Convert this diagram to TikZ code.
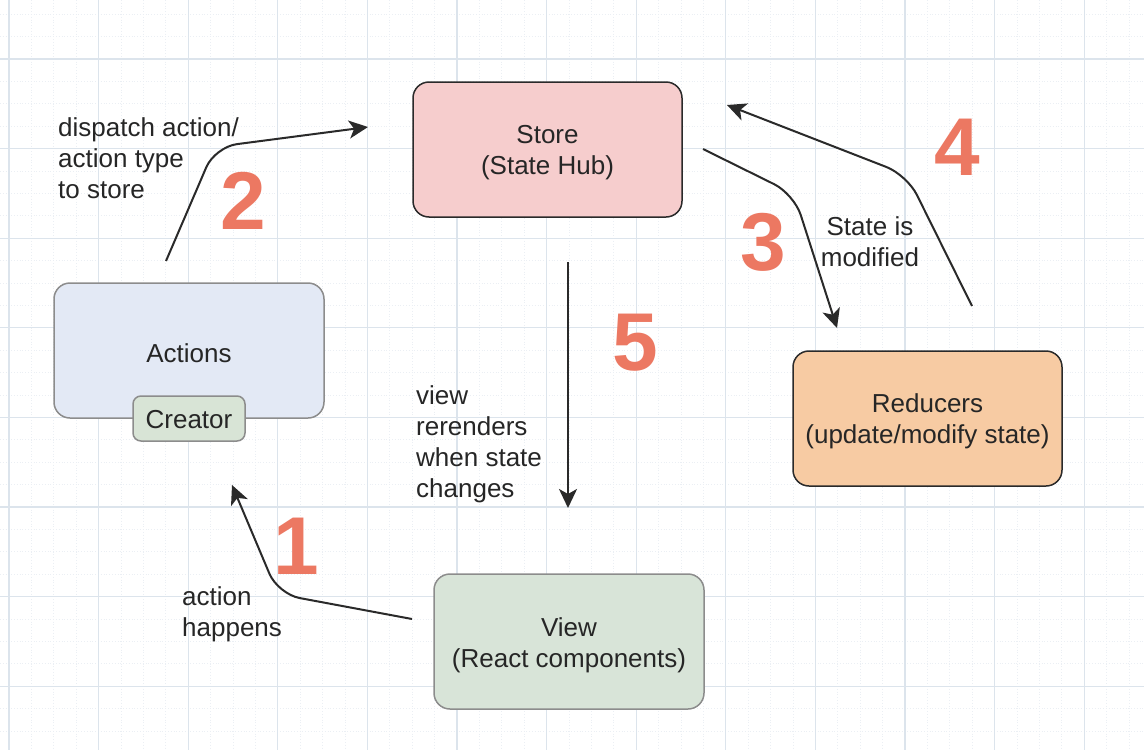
\documentclass[tikz,border=0pt]{standalone}
\usepackage{fontspec}
\setmainfont{Liberation Sans}
\usetikzlibrary{arrows.meta}
\definecolor{gridmajor}{HTML}{DCE4EC}
\definecolor{gridminor}{HTML}{EBEFF4}
\definecolor{storefill}{HTML}{F6CDCD}
\definecolor{redfill}{HTML}{F7CBA3}
\definecolor{actfill}{HTML}{E3E9F5}
\definecolor{crfill}{HTML}{D8E4D6}
\definecolor{viewfill}{HTML}{D8E4D8}
\definecolor{numcol}{HTML}{EC7862}
\definecolor{darkline}{HTML}{2A2A2A}
\definecolor{grayline}{HTML}{8C8C8C}
\tikzset{
  box/.style={draw, rounded corners=16pt, line width=1.5pt, inner sep=0pt, align=center,
    font=\fontsize{26}{31}\selectfont, text=black!85},
  lbl/.style={inner sep=0pt, font=\fontsize{26}{31}\selectfont, text=black!85},
  num/.style={inner sep=0pt, text=numcol, font=\fontsize{82}{82}\selectfont\bfseries},
  flow/.style={line width=2pt, draw=darkline, rounded corners=22pt,
    -{Stealth[length=19pt,width=18pt,inset=5pt]}}
}
\begin{document}
\begin{tikzpicture}[x=1pt,y=-1pt]
\useasboundingbox (0,0) rectangle (1144,750);
\fill[white] (0,0) rectangle (1144,750);
\begin{scope}
\clip (0,0) rectangle (1144,750);
\foreach \k in {-1,...,52} {
  \draw[gridminor, line width=0.8pt, dotted] ({9+22.4*\k},0) -- ({9+22.4*\k},750);
}
\foreach \k in {-2,...,34} {
  \draw[gridminor, line width=0.8pt, dotted] (0,{59+22.4*\k}) -- (1144,{59+22.4*\k});
}
\foreach \k in {0,...,12} {
  \draw[gridmajor, line width=1.3pt] ({9+89.6*\k},0) -- ({9+89.6*\k},750);
}
\foreach \k in {-1,...,8} {
  \draw[gridmajor, line width=1.3pt] (0,{59+89.6*\k}) -- (1144,{59+89.6*\k});
}
\end{scope}

% boxes
\node[box, draw=darkline, fill=storefill, minimum width=269pt, minimum height=135pt]
  (store) at (547.5,149.5) {};
\node[lbl, align=center] (storelabel) at (547.5,153) {Store\\(State Hub)};
\node[box, draw=darkline, fill=redfill, minimum width=269pt, minimum height=135pt]
  (reducers) at (927.5,418.5) {};
\node[lbl, align=center] (redlabel) at (927.5,421.5) {Reducers\\(update/modify state)};
\node[box, draw=grayline, fill=actfill, minimum width=270pt, minimum height=135pt]
  (actions) at (189,350.5) {};
\node[lbl] (actlabel) at (189,353) {Actions};
\node[box, draw=grayline, fill=crfill, rounded corners=8pt, minimum width=112pt, minimum height=45pt]
  (creator) at (189,418.5) {};
\node[lbl] (crlabel) at (189,420) {Creator};
\node[box, draw=grayline, fill=viewfill, minimum width=270pt, minimum height=135pt]
  (view) at (569,641.5) {};
\node[lbl, align=center] (viewlabel) at (569,645) {View\\(React components)};

% connector end points
\coordinate (a2s) at (166,261);
\coordinate (a2c) at (215,147);
\coordinate (a2e) at (368,127);
\coordinate (a3s) at (703,149);
\coordinate (a3c) at (794,194);
\coordinate (a3e) at (837,328);
\coordinate (a4s) at (972,306);
\coordinate (a4c) at (907,175);
\coordinate (a4e) at (727,105);
\coordinate (a1s) at (412,619);
\coordinate (a1c) at (278,594);
\coordinate (a1e) at (232,485);
\coordinate (a5s) at (568,262);
\coordinate (a5e) at (568,508);

\draw[flow] (a2s) -- (a2c) -- (a2e);
\draw[flow] (a3s) -- (a3c) -- (a3e);
\draw[flow] (a4s) -- (a4c) -- (a4e);
\draw[flow] (a1s) -- (a1c) -- (a1e);
\draw[flow] (a5s) -- (a5e);

% labels
\node[lbl, anchor=west, align=left] (l2) at (58,158.5) {dispatch action/\\action type\\to store};
\node[lbl, align=center] (l3) at (870,242) {State is\\modified};
\node[lbl, anchor=west, align=left] (l5) at (416,444) {view\\rerenders\\when state\\changes};
\node[lbl, anchor=west, align=left] (l1) at (182,614) {action\\happens};

% step numbers
\node[num] (n1) at (296,546) {1};
\node[num] (n2) at (243,201) {2};
\node[num] (n3) at (763,242) {3};
\node[num] (n4) at (957,147) {4};
\node[num] (n5) at (635,343) {5};
\end{tikzpicture}
\end{document}
